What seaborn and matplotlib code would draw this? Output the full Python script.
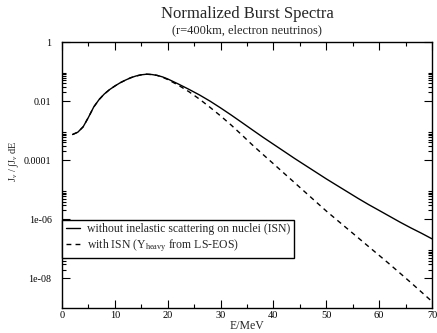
import numpy as np
import pandas as pd
import matplotlib
matplotlib.use("Agg")
import matplotlib.pyplot as plt
import matplotlib.ticker as mticker
import seaborn as sns

# ---- data ----
energy = [2, 3, 4, 5, 6, 7, 8, 9, 10, 11, 12, 13, 14, 15, 16, 17, 18, 19, 20,
          22, 24, 26, 28, 30, 32, 34, 36, 38, 40, 42, 44, 46, 48, 50,
          52, 54, 56, 58, 60, 62, 64, 66, 68, 70]

spec_no_isn = [7.41e-4, 8.91e-4, 1.35e-3, 2.82e-3, 6.31e-3, 1.12e-2, 1.74e-2, 2.45e-2,
               3.24e-2, 4.17e-2, 5.13e-2, 6.17e-2, 7.08e-2, 7.76e-2, 8.13e-2, 7.94e-2,
               7.41e-2, 6.61e-2, 5.62e-2,
               3.80e-2, 2.51e-2, 1.62e-2, 1.00e-2, 5.89e-3, 3.39e-3, 1.91e-3, 1.07e-3,
               6.03e-4, 3.47e-4, 2.00e-4, 1.15e-4, 6.76e-5, 3.98e-5, 2.34e-5,
               1.41e-5, 8.51e-6, 5.13e-6, 3.16e-6, 2.00e-6, 1.26e-6, 7.94e-7, 5.13e-7,
               3.39e-7, 2.19e-7]

spec_isn = [7.41e-4, 8.91e-4, 1.35e-3, 2.82e-3, 6.31e-3, 1.12e-2, 1.74e-2, 2.45e-2,
            3.24e-2, 4.17e-2, 5.13e-2, 6.17e-2, 7.08e-2, 7.76e-2, 8.13e-2, 7.94e-2,
            7.41e-2, 6.46e-2, 5.37e-2,
            3.47e-2, 2.09e-2, 1.17e-2, 6.17e-3, 3.16e-3, 1.55e-3, 7.24e-4, 3.31e-4,
            1.58e-4, 7.59e-5, 3.63e-5, 1.74e-5, 8.32e-6, 3.98e-6, 1.91e-6,
            9.55e-7, 4.79e-7, 2.40e-7, 1.20e-7, 6.03e-8, 3.02e-8, 1.48e-8, 7.24e-9,
            3.47e-9, 1.66e-9]

label_no_isn = "without inelastic scattering on nuclei (ISN)"
label_isn = r"with ISN (Y$_{\mathrm{heavy}}$ from LS-EOS)"

x_ticks = [0, 10, 20, 30, 40, 50, 60, 70]
y_ticks = [1, 1e-2, 1e-4, 1e-6, 1e-8]
y_ticklabels = ["1", "0.01", "0.0001", "1e-06", "1e-08"]

# ---- style ----
sns.set_style("ticks")
plt.rcParams["font.family"] = ["Liberation Serif", "DejaVu Serif"]
plt.rcParams["mathtext.fontset"] = "custom"
plt.rcParams["mathtext.rm"] = "Liberation Serif"
plt.rcParams["mathtext.it"] = "Liberation Serif:italic"
plt.rcParams["mathtext.bf"] = "Liberation Serif:bold"

df = pd.DataFrame({
    "E": energy * 2,
    "J": spec_no_isn + spec_isn,
    "series": [label_no_isn] * len(energy) + [label_isn] * len(energy),
})

fig = plt.figure(figsize=(4.37, 3.33), dpi=100)
ax = fig.add_axes([62 / 437, 1 - 308 / 333, 370 / 437, 266 / 333])

sns.lineplot(data=df[df.series == label_no_isn], x="E", y="J", ax=ax,
             color="black", lw=1.0, linestyle="-", label=label_no_isn)
sns.lineplot(data=df[df.series == label_isn], x="E", y="J", ax=ax,
             color="black", lw=1.0, linestyle=(0, (3.5, 3)), label=label_isn)

ax.set_yscale("log")
ax.set_xlim(0, 70)
ax.set_ylim(1e-9, 1)

ax.set_xticks(x_ticks)
ax.set_xticklabels([str(t) for t in x_ticks])
ax.xaxis.set_minor_locator(mticker.MultipleLocator(5))
ax.set_yticks(y_ticks)
ax.set_yticklabels(y_ticklabels)
ax.yaxis.set_minor_locator(mticker.LogLocator(base=100, subs=np.arange(2, 10)))
ax.yaxis.set_minor_formatter(mticker.NullFormatter())

ax.tick_params(which="both", direction="in", top=True, right=True,
               colors="black", width=0.8)
ax.tick_params(axis="x", labelsize=7.5, pad=2)
ax.tick_params(axis="y", labelsize=7.2, pad=7.5)
ax.tick_params(which="major", length=6)
ax.tick_params(which="minor", length=3)
for s in ax.spines.values():
    s.set_visible(True)
    s.set_linewidth(1.0)
    s.set_color("black")

ax.set_xlabel("E/MeV", fontsize=8.5, labelpad=0)
ax.set_ylabel(r"J$_\nu$ / ∫J$_\nu$ dE", fontsize=7.5)
ax.yaxis.set_label_coords(-0.11, (308 - 161) / 266)

fig.text(247 / 437, 1 - 14 / 333, "Normalized Burst Spectra", ha="center", va="center", fontsize=12)
fig.text(247 / 437, 1 - 30 / 333, "(r=400km, electron neutrinos)", ha="center", va="center", fontsize=9)

leg = ax.legend(loc="upper left", bbox_to_anchor=(0, (308 - 219.5) / 266), borderaxespad=0,
                fontsize=8.5, handlelength=1.2, handletextpad=0.6, labelspacing=0.2,
                borderpad=0.3, fancybox=False, framealpha=1, edgecolor="black")
leg.get_frame().set_linewidth(1.0)

fig.savefig("out.png", dpi=100)
